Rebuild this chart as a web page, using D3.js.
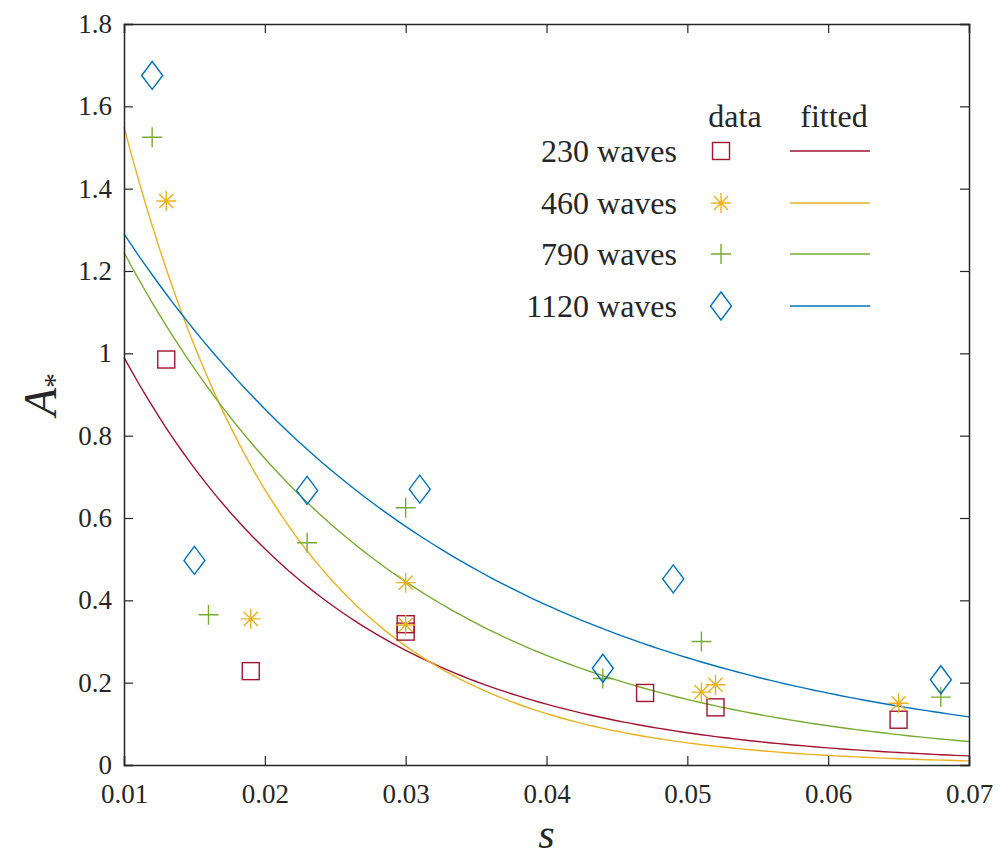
<!DOCTYPE html>
<html lang="en">
<head>
    <meta charset="UTF-8">
    <title>A* vs s</title>
    <script src="https://cdn.jsdelivr.net/npm/d3@7/dist/d3.min.js"></script>
    <style>
        body { margin: 0; background: #fff; }
        svg { display: block; }
        text { font-family: "Liberation Serif", "DejaVu Serif", serif; fill: #262626; }
    </style>
</head>
<body>
<script>
    const width = 1007;
    const height = 862;

    // data
    const seriesNames = ['230 waves', '460 waves', '790 waves', '1120 waves'];
    const seriesColors = ['#A2142F', '#EDB120', '#77AC30', '#0072BD'];
    const seriesMarkers = ['square', 'asterisk', 'plus', 'diamond'];

    const sWave230 = [0.013, 0.019, 0.030, 0.030, 0.047, 0.052, 0.065];
    const aWave230 = [0.985, 0.228, 0.342, 0.324, 0.175, 0.140, 0.110];
    const sWave460 = [0.013, 0.019, 0.030, 0.030, 0.051, 0.052, 0.065];
    const aWave460 = [1.370, 0.355, 0.443, 0.340, 0.177, 0.195, 0.150];
    const sWave790 = [0.012, 0.016, 0.023, 0.030, 0.044, 0.051, 0.068];
    const aWave790 = [1.525, 0.365, 0.540, 0.625, 0.210, 0.300, 0.165];
    const sWave1120 = [0.012, 0.015, 0.023, 0.031, 0.044, 0.049, 0.068];
    const aWave1120 = [1.675, 0.497, 0.667, 0.670, 0.235, 0.452, 0.207];

    // fitted curves A = amp * exp(-rate * (s - 0.01))
    const fitAmp = [0.99, 1.55, 1.245, 1.29];
    const fitRate = [63.4, 84, 51.4, 40];

    const xTicks = [0.01, 0.02, 0.03, 0.04, 0.05, 0.06, 0.07];
    const yTicks = [0, 0.2, 0.4, 0.6, 0.8, 1, 1.2, 1.4, 1.6, 1.8];

    const sData = [sWave230, sWave460, sWave790, sWave1120];
    const aData = [aWave230, aWave460, aWave790, aWave1120];

    const margin = { left: 124, right: 38, top: 24, bottom: 97 };
    const plotW = width - margin.left - margin.right;
    const plotH = height - margin.top - margin.bottom;

    const svg = d3.select('body').append('svg')
        .attr('width', width)
        .attr('height', height);

    const x = d3.scaleLinear().domain([0.01, 0.07]).range([0, plotW]);
    const y = d3.scaleLinear().domain([0, 1.8]).range([plotH, 0]);

    const g = svg.append('g')
        .attr('transform', 'translate(' + margin.left + ',' + margin.top + ')');

    // fitted lines
    const curve = d3.line()
        .x(d => x(d[0]))
        .y(d => y(d[1]));

    seriesNames.forEach((name, i) => {
        const pts = d3.range(0.01, 0.07001, 0.0005)
            .map(s => [s, fitAmp[i] * Math.exp(-fitRate[i] * (s - 0.01))]);
        g.append('path')
            .attr('d', curve(pts))
            .attr('fill', 'none')
            .attr('stroke', seriesColors[i])
            .attr('stroke-width', 1.4);
    });

    // marker drawing
    function drawMarker(sel, type, color) {
        if (type === 'square') {
            sel.append('rect')
                .attr('x', -8.5).attr('y', -8.5)
                .attr('width', 17).attr('height', 17)
                .attr('fill', 'none').attr('stroke', color).attr('stroke-width', 1.4);
        } else if (type === 'diamond') {
            sel.append('path')
                .attr('d', 'M0,-14 L10.5,0 L0,14 L-10.5,0 Z')
                .attr('fill', 'none').attr('stroke', color).attr('stroke-width', 1.4);
        } else if (type === 'plus') {
            sel.append('path')
                .attr('d', 'M-10,0 H10 M0,-10 V10')
                .attr('fill', 'none').attr('stroke', color).attr('stroke-width', 1.4);
        } else {
            const r = 10, q = 7.07;
            sel.append('path')
                .attr('d', 'M-' + r + ',0 H' + r + ' M0,-' + r + ' V' + r +
                    ' M-' + q + ',-' + q + ' L' + q + ',' + q +
                    ' M-' + q + ',' + q + ' L' + q + ',-' + q)
                .attr('fill', 'none').attr('stroke', color).attr('stroke-width', 1.4);
        }
    }

    // data points
    seriesNames.forEach((name, i) => {
        sData[i].forEach((s, j) => {
            const m = g.append('g')
                .attr('transform', 'translate(' + x(s) + ',' + y(aData[i][j]) + ')');
            drawMarker(m, seriesMarkers[i], seriesColors[i]);
        });
    });

    // axes box with inward ticks
    const axisColor = '#262626';
    const tickLen = 9;

    const xAxis = g.append('g').attr('transform', 'translate(0,' + plotH + ')')
        .call(d3.axisBottom(x).tickValues(xTicks).tickSize(-tickLen).tickPadding(19)
            .tickFormat(d => d3.format('.2f')(d)));
    const xTop = g.append('g')
        .call(d3.axisTop(x).tickValues(xTicks).tickSize(-tickLen).tickFormat(''));
    const yAxis = g.append('g')
        .call(d3.axisLeft(y).tickValues(yTicks).tickSize(-tickLen).tickPadding(12)
            .tickFormat(d => d === 0 || d === 1 ? String(d) : d3.format('.1f')(d)));
    const yRight = g.append('g').attr('transform', 'translate(' + plotW + ',0)')
        .call(d3.axisRight(y).tickValues(yTicks).tickSize(-tickLen).tickFormat(''));

    [xAxis, xTop, yAxis, yRight].forEach(a => {
        a.attr('font-family', null);
        a.select('.domain').attr('stroke', axisColor).attr('stroke-width', 1.5);
        a.selectAll('.tick line').attr('stroke', axisColor).attr('stroke-width', 1.2);
        a.selectAll('.tick text')
            .style('font-family', '"Liberation Serif", serif')
            .style('font-size', '27px')
            .attr('fill', axisColor);
    });
    xAxis.selectAll('.tick text').attr('dy', '0.71em');

    // axis labels
    svg.append('text')
        .attr('x', margin.left + plotW / 2)
        .attr('y', 848)
        .attr('text-anchor', 'middle')
        .style('font-size', '42px')
        .style('font-style', 'italic')
        .text('s');

    const yl = svg.append('text')
        .attr('transform', 'translate(56,' + (margin.top + plotH / 2) + ') rotate(-90)')
        .attr('text-anchor', 'middle')
        .style('font-size', '46px')
        .style('font-style', 'italic');
    yl.append('tspan').text('A');
    yl.append('tspan').attr('dy', 8).style('font-size', '30px').style('font-style', 'normal').text('*');

    // legend
    const legend = svg.append('g');
    legend.append('text')
        .attr('x', 735).attr('y', 127)
        .attr('text-anchor', 'middle')
        .style('font-size', '32px')
        .text('data');
    legend.append('text')
        .attr('x', 834).attr('y', 127)
        .attr('text-anchor', 'middle')
        .style('font-size', '32px')
        .text('fitted');

    const rowY = [151, 203, 254, 306];
    seriesNames.forEach((name, i) => {
        legend.append('text')
            .attr('x', 677).attr('y', rowY[i] + 11)
            .attr('text-anchor', 'end')
            .style('font-size', '32px')
            .text(name);
        const m = legend.append('g').attr('transform', 'translate(721,' + rowY[i] + ')');
        drawMarker(m, seriesMarkers[i], seriesColors[i]);
        legend.append('line')
            .attr('x1', 790).attr('x2', 870)
            .attr('y1', rowY[i]).attr('y2', rowY[i])
            .attr('stroke', seriesColors[i])
            .attr('stroke-width', 1.4);
    });
</script>
</body>
</html>
